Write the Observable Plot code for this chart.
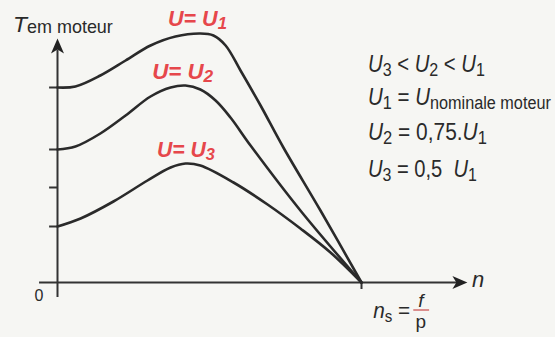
<!DOCTYPE html>
<html><head><meta charset="utf-8">
<script src="https://cdn.jsdelivr.net/npm/d3@7"></script>
<script src="https://cdn.jsdelivr.net/npm/@observablehq/plot@0.6"></script>
<style>
html,body{margin:0;padding:0;background:#f6f6f3;}
#chart svg{display:block;background:#f6f6f3;}
</style></head><body><div id="chart"></div>
<script>
// speed n as % of synchronous speed ns, torque T in arbitrary %
const nU1 = [0, 5.9, 14.1, 22.4, 30.6, 38.8, 47.0, 51.3, 55.3, 60.2, 66.8, 74.3, 86.5, 100];
const tU1 = [78, 78.4, 82.8, 88.8, 94.8, 98.4, 99.6, 98.8, 94.8, 84.8, 70.8, 54, 28.8, 0];
const nU2 = [0, 5.9, 14.1, 22.4, 30.6, 37.2, 42.1, 47.0, 52.0, 56.9, 63.5, 79.9, 100];
const tU2 = [53.2, 54.4, 59.6, 66.8, 74.4, 78, 78.8, 77.2, 72.8, 66, 54.8, 28.8, 0];
const nU3 = [0, 7.6, 18.4, 29.6, 37.2, 42.1, 47.0, 57.9, 69.1, 79.9, 89.8, 100];
const tU3 = [22.4, 25.6, 32.4, 40.8, 46, 47.6, 46.8, 40, 31.2, 21.6, 12, 0];
const startTicks = [78, 53.2, 38, 22.4];
const nsValue = 100;

const curveNames = ["1", "2", "3"];
const curveLabelN = [36.5, 31.3, 32.9];
const curveLabelT = [102.4, 81.2, 50];

const relationLines = [
  [["U","i"],["3","s"],[" < ",""],["U","i"],["2","s"],[" < ",""],["U","i"],["1","s"]],
  [["U","i"],["1","s"],[" = ",""],["U","i"],["nominale moteur","s"]],
  [["U","i"],["2","s"],[" = 0,75.",""],["U","i"],["1","s"]],
  [["U","i"],["3","s"],[" = 0,5  ",""],["U","i"],["1","s"]]
];
const relationT = [84, 70.8, 56.8, 42];
const relationN = 102.3;

const INK = "#2a2a2a";
const RED = "#e6474b";
const FONT = "'Liberation Sans',Arial,sans-serif";

const mk = (ns, ts, name) => ns.map((n, i) => ({n, T: ts[i], curve: name}));
const curves = [...mk(nU1, tU1, "U1"), ...mk(nU2, tU2, "U2"), ...mk(nU3, tU3, "U3")];

const dartUp = {draw(c){ c.moveTo(0,-8); c.lineTo(6.5,7); c.lineTo(0,3); c.lineTo(-6.5,7); c.closePath(); }};
const dartRight = {draw(c){ c.moveTo(8,0); c.lineTo(-7,6.5); c.lineTo(-3,0); c.lineTo(-7,-6.5); c.closePath(); }};

const chart = Plot.plot({
  width: 555, height: 337,
  marginTop: 0, marginRight: 0, marginBottom: 0, marginLeft: 0,
  style: {background: "transparent", overflow: "visible"},
  x: {domain: [0, nsValue], range: [57, 361], axis: null},
  y: {domain: [0, 100], range: [282, 32], axis: null},
  marks: [
    Plot.ruleY([0], {x1: -5.9, x2: 132, stroke: "#333", strokeWidth: 2}),
    Plot.ruleX([0], {y1: -6, y2: 93, stroke: "#333", strokeWidth: 2}),
    Plot.ruleX([nsValue], {y1: -2.8, y2: 0, stroke: "#333", strokeWidth: 2}),
    Plot.ruleY(startTicks, {x1: -2.6, x2: 0, stroke: "#333", strokeWidth: 2}),
    Plot.line(curves, {x: "n", y: "T", z: "curve", stroke: INK, strokeWidth: 2.6, curve: "catmull-rom"}),
    Plot.dot([{n: 0, T: 94.4}], {x: "n", y: "T", symbol: dartUp, fill: "#222", stroke: "none"}),
    Plot.dot([{n: 132.2, T: 0}], {x: "n", y: "T", symbol: dartRight, fill: "#222", stroke: "none"})
  ]
});
document.getElementById("chart").appendChild(chart);

const X = v => chart.scale("x").apply(v);
const Y = v => chart.scale("y").apply(v);
const g = d3.select(chart).append("g").attr("font-family", FONT)
  .attr("text-anchor", "start").style("white-space", "pre");

// text drawn at (x, y), then condensed horizontally to a target width
function richText(x, y, segs, st) {
  const t = g.append("text").attr("x", 0).attr("y", 0)
    .attr("text-anchor", "start")
    .attr("fill", st.fill).attr("font-size", st.size)
    .attr("font-weight", st.weight || "normal");
  let shift = 0;
  for (const [s, k] of segs) {
    const sub = k.includes("s");
    const target = sub ? st.subDy : 0;
    t.append("tspan").text(s)
      .attr("dy", target - shift)
      .attr("font-size", sub ? st.subSize : st.size)
      .attr("font-style", k.includes("i") ? "italic" : "normal");
    shift = target;
  }
  let sx = 1;
  if (st.len) {
    const w = t.node().getComputedTextLength();
    if (w > 0) sx = st.len / w;
  }
  t.attr("transform", `translate(${x},${y}) scale(${sx},1)`);
  return t;
}

// curve labels
const curveLabelLen = [59, 61, 58];
curveNames.forEach((nm, i) => {
  richText(X(curveLabelN[i]), Y(curveLabelT[i]),
    [["U","i"],["=","i"],[" U","i"],[nm,"is"]],
    {fill: RED, size: 22, subSize: 17, subDy: 3, weight: "bold", len: curveLabelLen[i]});
});

// relations block
const relationLen = [117, 183, 119, 109];
relationLines.forEach((segs, i) => {
  richText(X(relationN), Y(relationT[i]), segs,
    {fill: INK, size: 24, subSize: 19, subDy: 4, len: relationLen[i]});
});

// axis titles
richText(X(-14.5), Y(100), [["T","i"],["em moteur","s"]],
  {fill: INK, size: 23, subSize: 18, subDy: 1, len: 100});
g.append("text").attr("x", X(-5.9)).attr("y", Y(-7.6)).attr("text-anchor", "middle")
  .attr("font-size", 16).attr("fill", INK).text("0");
g.append("text").attr("x", X(136.5)).attr("y", Y(-2)).attr("font-size", 22)
  .attr("font-style", "italic").attr("fill", INK).text("n");

// ns = f / p
richText(X(104), Y(-14.4), [["n","i"],["s","s"],[" =",""]],
  {fill: INK, size: 22, subSize: 16, subDy: 4, len: 37});
g.append("text").attr("x", X(119.7)).attr("y", Y(-10)).attr("text-anchor", "middle")
  .attr("font-size", 19).attr("font-style", "italic").attr("fill", INK).text("f");
g.append("line").attr("x1", X(117.2)).attr("x2", X(122.4))
  .attr("y1", Y(-11.2)).attr("y2", Y(-11.2)).attr("stroke", "#c55").attr("stroke-width", 1.3);
g.append("text").attr("x", X(119.7)).attr("y", Y(-18.4)).attr("text-anchor", "middle")
  .attr("font-size", 19).attr("fill", INK).text("p");
</script>
</body></html>
